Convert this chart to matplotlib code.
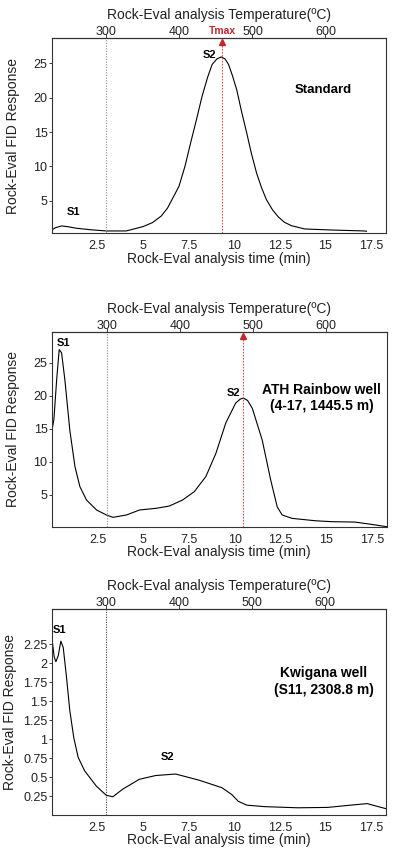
import matplotlib
matplotlib.use("Agg")
import matplotlib.pyplot as plt

plt.rcParams['font.family'] = ['Liberation Sans', 'DejaVu Sans']

# ---------------- data ----------------
std_time = [0.0, 0.2, 0.54, 0.9, 1.36, 2.2, 2.99, 4.08, 5.0, 5.52, 6.0, 6.34, 6.97, 7.3, 7.61,
            7.95, 8.24, 8.55, 8.79, 9.05, 9.29, 9.5, 9.69, 9.9, 10.14, 10.4, 10.69, 10.95,
            11.23, 11.5, 11.77, 12.1, 12.41, 12.75, 13.13, 13.86, 15.3, 17.12, 17.25]
std_resp = [0.78, 1.1, 1.37, 1.25, 1.03, 0.8, 0.64, 0.64, 1.27, 1.85, 2.8, 3.93, 7.1, 10.0, 13.4,
            17.0, 20.2, 23.0, 24.8, 25.6, 25.9, 25.6, 24.8, 23.2, 21.1, 18.0, 14.8, 11.8,
            9.0, 6.9, 5.15, 3.7, 2.7, 1.9, 1.41, 0.93, 0.78, 0.64, 0.6]

ath_time = [0.0, 0.12, 0.27, 0.41, 0.54, 0.72, 0.99, 1.27, 1.54, 1.9, 2.45, 2.99, 3.35, 4.08,
            4.8, 5.7, 6.43, 7.15, 7.79, 8.42, 8.97, 9.51, 10.05, 10.3, 10.47, 10.7, 10.96,
            11.5, 11.96, 12.32, 12.59, 13.13, 14.4, 15.3, 16.57, 17.48, 18.3]
ath_resp = [14.6, 16.4, 22.4, 27.0, 26.5, 22.4, 14.8, 9.3, 6.26, 4.24, 2.73, 1.97, 1.62, 1.97,
            2.73, 2.98, 3.33, 4.24, 5.5, 7.78, 11.3, 15.9, 18.9, 19.5, 19.65, 19.3, 18.1,
            13.3, 7.3, 3.2, 1.97, 1.46, 1.1, 0.96, 0.9, 0.55, 0.2]

kwi_time = [0.0, 0.14, 0.23, 0.36, 0.5, 0.63, 0.81, 0.99, 1.21, 1.45, 1.81, 2.45, 2.99, 3.35,
            3.89, 4.8, 5.7, 6.79, 8.06, 9.33, 9.87, 10.23, 10.69, 11.68, 13.5, 15.13, 16.4,
            17.3, 17.75, 18.3]
kwi_resp = [2.35, 2.08, 2.02, 2.10, 2.29, 2.21, 1.82, 1.38, 1.02, 0.76, 0.58, 0.38, 0.26, 0.24,
            0.34, 0.47, 0.52, 0.54, 0.46, 0.36, 0.27, 0.18, 0.13, 0.11, 0.095, 0.10, 0.13,
            0.15, 0.12, 0.085]

x_ticks = [2.5, 5, 7.5, 10, 12.5, 15, 17.5]
x_ticklabels = ["2.5", "5", "7.5", "10", "12.5", "15", "17.5"]
temp_ticks = [300, 400, 500, 600]
y_ticks_big = [5, 10, 15, 20, 25]
y_ticks_kwi = [0.25, 0.5, 0.75, 1, 1.25, 1.5, 1.75, 2, 2.25]
y_ticklabels_kwi = ["0.25", "0.5", "0.75", "1", "1.25", "1.5", "1.75", "2", "2.25"]

t300 = 3.0           # time (min) at 300 C
tmax_std = 9.33
tmax_ath = 10.45

# ---------------- figure ----------------
W, H = 394, 849
fig = plt.figure(figsize=(W / 100, H / 100), dpi=100)

def rect(l, t, r, b):
    return [l / W, 1 - b / H, (r - l) / W, (b - t) / H]

RED = '#c4262e'
RED_LINE = '#d9544e'
FS_TICK = 9
FS_LAB = 10
TXT = '#222222'

def t2T(t):
    return 300 + 25 * (t - 3)

def T2t(T):
    return 3 + (T - 300) / 25.0

def setup(ax, ylim, yticks, yticklabels=None, ylab_x=-0.095):
    ax.set_xlim(0, 18.3)
    ax.set_ylim(*ylim)
    ax.set_xticks(x_ticks)
    ax.set_xticklabels(x_ticklabels)
    ax.set_yticks(yticks)
    if yticklabels is not None:
        ax.set_yticklabels(yticklabels)
    ax.tick_params(axis='x', length=0, pad=5, labelsize=FS_TICK, colors=TXT)
    ax.tick_params(axis='y', length=2, width=0.6, pad=1, labelsize=FS_TICK, colors=TXT)
    for s in ax.spines.values():
        s.set_linewidth(0.8)
        s.set_color('#333333')
    ax.set_xlabel('Rock-Eval analysis time (min)', fontsize=FS_LAB, labelpad=-0.5, color=TXT)
    ax.set_ylabel('Rock-Eval FID Response', fontsize=FS_LAB, color=TXT)
    ax.yaxis.set_label_coords(ylab_x, 0.5)
    sec = ax.secondary_xaxis('top', functions=(t2T, T2t))
    sec.set_xticks(temp_ticks)
    sec.tick_params(length=3, width=0.6, pad=-2.9, labelsize=FS_TICK, colors=TXT)
    sec.set_xlabel('Rock-Eval analysis Temperature(\u00baC)', fontsize=FS_LAB, labelpad=5,
                   color=TXT)
    return ax

# Panel 1 - Standard
ax1 = fig.add_axes(rect(51.7, 38.3, 385.7, 233.3))
setup(ax1, (0.3, 28.6), y_ticks_big, ylab_x=-0.095)
ax1.plot(std_time, std_resp, color='black', lw=0.8)
ax1.axvline(t300, color='#999999', lw=0.8, ls=(0, (1.2, 1.2)))
ax1.plot([tmax_std, tmax_std], [0.3, 28.0], color=RED_LINE, lw=0.8, ls=(0, (1.5, 1.2)))
ax1.plot([tmax_std], [28.0], marker='^', color=RED, ms=5, clip_on=False)
ax1.text(tmax_std, 28.9, 'Tmax', color=RED, fontsize=7.5, fontweight='bold',
         ha='center', va='bottom', clip_on=False)
ax1.text(8.64, 26.2, 'S2', fontsize=8, fontweight='bold', ha='center', va='center')
ax1.text(1.2, 3.4, 'S1', fontsize=8, fontweight='bold', ha='center', va='center')
ax1.text(14.9, 21.1, 'Standard', fontsize=9.5, fontweight='bold', ha='center', va='center')

# Panel 2 - ATH Rainbow well
ax2 = fig.add_axes(rect(51.7, 331.7, 386.7, 526.7))
setup(ax2, (0.2, 29.7), y_ticks_big, ylab_x=-0.095)
ax2.plot(ath_time, ath_resp, color='black', lw=0.8)
ax2.axvline(t300, color='#999999', lw=0.8, ls=(0, (1.2, 1.2)))
ax2.plot([tmax_ath, tmax_ath], [0.2, 29.0], color=RED_LINE, lw=0.8, ls=(0, (1.5, 1.2)))
ax2.plot([tmax_ath], [29.0], marker='^', color=RED, ms=5, clip_on=False)
ax2.text(0.63, 28.0, 'S1', fontsize=8, fontweight='bold', ha='center', va='center')
ax2.text(9.96, 20.5, 'S2', fontsize=8, fontweight='bold', ha='center', va='center')
ax2.text(14.76, 19.7, 'ATH Rainbow well\n(4-17, 1445.5 m)', fontsize=10,
         fontweight='bold', ha='center', va='center', linespacing=1.2)

# Panel 3 - Kwigana well
ax3 = fig.add_axes(rect(51.7, 609.3, 385.5, 815))
setup(ax3, (0.0, 2.71), y_ticks_kwi, y_ticklabels_kwi, ylab_x=-0.104)
ax3.plot(kwi_time, kwi_resp, color='black', lw=0.8)
ax3.axvline(t300, color='#333333', lw=0.6, ls=(0, (1.5, 1.5)))
ax3.text(0.45, 2.44, 'S1', fontsize=8, fontweight='bold', ha='center', va='center')
ax3.text(6.34, 0.76, 'S2', fontsize=8, fontweight='bold', ha='center', va='center')
ax3.text(14.9, 1.76, 'Kwigana well\n(S11, 2308.8 m)', fontsize=10,
         fontweight='bold', ha='center', va='center', linespacing=1.2)

fig.savefig('out.png', dpi=100)
